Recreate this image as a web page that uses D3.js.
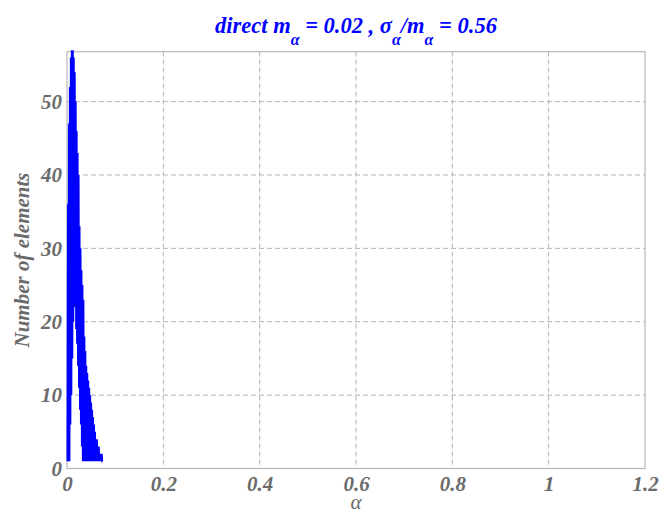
<!DOCTYPE html>
<html>
<head>
<meta charset="utf-8">
<script src="https://cdn.jsdelivr.net/npm/d3@7"></script>
<style>
  html, body { margin: 0; padding: 0; background: #fff; }
  svg { display: block; }
  text { font-family: "Liberation Serif", "Times New Roman", serif; }
</style>
</head>
<body>
<svg id="chart" width="659" height="514"></svg>
<script>
// ---- data ----
const alphaValues = [
  0.001,0.002,0.003,0.004,0.005,0.006,0.007,0.008,0.009,0.010,
  0.011,0.012,0.013,0.014,0.015,0.016,0.017,0.018,0.019,0.020,
  0.021,0.022,0.023,0.024,0.025,0.026,0.027,0.028,0.029,0.030,
  0.031,0.032,0.033,0.034,0.035,0.036,0.037,0.038,0.039,0.040,
  0.041,0.042,0.043,0.044,0.045,0.046,0.047,0.048,0.049,0.050,
  0.051,0.052,0.053,0.054,0.055,0.056,0.057,0.058,0.059,0.060,
  0.061,0.062,0.063,0.064,0.065,0.066,0.067,0.068,0.069,0.070,
  0.071,0.072,0.073,0.074
];
const counts = [
  1,36,1,47,1,52,6,56,10,57,
  15,57,20,56,22,54,22,50,19,46,
  17,43,14,40,11,33,8,30,6,27,
  3,25,1,23,1,18,1,16,1,14,
  1,13,1,12,1,11,1,10,1,9,
  1,8,1,7,1,6,1,5,1,4,
  1,4,1,3,1,3,1,2,1,2,
  1,2,1,1
];
const xTicks = [0, 0.2, 0.4, 0.6, 0.8, 1, 1.2];
const yTicks = [0, 10, 20, 30, 40, 50];
const xDomain = [0, 1.2];
const yDomain = [0, 56.8];

// ---- layout ----
const svg = d3.select("#chart");
const L = 67, R = 645, T = 51.7, B = 468.5;
const x = d3.scaleLinear().domain(xDomain).range([L, R]);
const y = d3.scaleLinear().domain(yDomain).range([B, T]);
const tickColor = "#6b6b6b";
const gridColor = "#b4b4b4";

// grid
svg.append("g").selectAll("line.vg")
  .data(xTicks.filter(d => d > 0 && d < 1.2))
  .join("line")
  .attr("x1", d => x(d)).attr("x2", d => x(d))
  .attr("y1", T).attr("y2", B)
  .attr("stroke", gridColor).attr("stroke-width", 1)
  .attr("stroke-dasharray", "5,3");
svg.append("g").selectAll("line.hg")
  .data(yTicks.filter(d => d > 0))
  .join("line")
  .attr("x1", L).attr("x2", R)
  .attr("y1", d => y(d)).attr("y2", d => y(d))
  .attr("stroke", gridColor).attr("stroke-width", 1)
  .attr("stroke-dasharray", "5,3");

// frame
svg.append("rect")
  .attr("x", L).attr("y", T).attr("width", R - L).attr("height", B - T)
  .attr("fill", "none").attr("stroke", "#b8b8b8").attr("stroke-width", 1.2);

// data line
const line = d3.line().x(d => x(d[0])).y(d => y(d[1]));
const pts = alphaValues.map((a, i) => [a, counts[i]]);
svg.append("path")
  .attr("d", line(pts))
  .attr("fill", "none")
  .attr("stroke", "#0000ff")
  .attr("stroke-width", 2)
  .attr("stroke-linejoin", "miter");

// axes
const xAxis = d3.axisBottom(x).tickValues(xTicks).tickSize(0).tickPadding(8)
  .tickFormat(d => d3.format("~g")(d));
const gx = svg.append("g").attr("transform", `translate(0,${B})`).call(xAxis);
gx.select(".domain").remove();
gx.selectAll("text")
  .attr("font-family", "Liberation Serif").attr("font-size", 21)
  .attr("font-weight", "bold").attr("font-style", "italic")
  .attr("fill", tickColor).attr("dy", "0.71em");

const yAxis = d3.axisLeft(y).tickValues(yTicks).tickSize(0).tickPadding(5);
const gy = svg.append("g").attr("transform", `translate(${L},0)`).call(yAxis);
gy.select(".domain").remove();
gy.selectAll("text")
  .attr("font-family", "Liberation Serif").attr("font-size", 21)
  .attr("font-weight", "bold").attr("font-style", "italic")
  .attr("fill", tickColor);

// axis titles
svg.append("text")
  .attr("x", (L + R) / 2).attr("y", 509)
  .attr("text-anchor", "middle")
  .attr("font-size", 21).attr("font-style", "italic")
  .attr("fill", tickColor)
  .text("α");

svg.append("text")
  .attr("transform", "translate(29,260) rotate(-90)")
  .attr("text-anchor", "middle")
  .attr("font-size", 21).attr("font-weight", "bold").attr("font-style", "italic")
  .attr("fill", tickColor)
  .text("Number of elements");

// title
const title = svg.append("text")
  .attr("x", 356).attr("y", 33)
  .attr("text-anchor", "middle")
  .attr("font-size", 22.5).attr("font-weight", "bold").attr("font-style", "italic")
  .attr("fill", "#0000ff");
title.append("tspan").text("direct m");
title.append("tspan").attr("dy", 12).attr("font-size", 16).text("α");
title.append("tspan").attr("dy", -12).text(" = 0.02 , σ");
title.append("tspan").attr("dy", 12).attr("font-size", 16).text("α");
title.append("tspan").attr("dy", -12).text("/m");
title.append("tspan").attr("dy", 12).attr("font-size", 16).text("α");
title.append("tspan").attr("dy", -12).text(" = 0.56");
</script>
</body>
</html>
